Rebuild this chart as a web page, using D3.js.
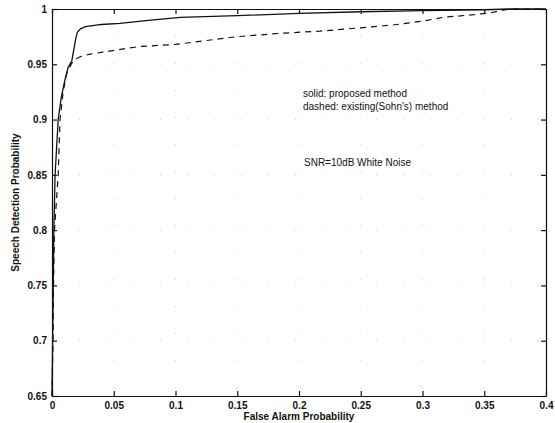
<!DOCTYPE html>
<meta charset="utf-8">
<style>
  body { margin: 0; background: #fff; }
  text { font-family: "Liberation Sans", Arial, sans-serif; fill: #111; }
</style>
<svg width="555" height="423"></svg>
<script src="https://d3js.org/d3.v7.min.js"></script>
<script>

var xTicks = [0, 0.05, 0.1, 0.15, 0.2, 0.25, 0.3, 0.35, 0.4];
var yTicks = [0.65, 0.7, 0.75, 0.8, 0.85, 0.9, 0.95, 1];

// solid: proposed method
var solidX = [0, 0.0005, 0.001, 0.0015, 0.0025, 0.005, 0.0075, 0.0105, 0.013, 0.016, 0.018, 0.019, 0.0205, 0.023, 0.027, 0.04, 0.055, 0.08, 0.104, 0.15, 0.2, 0.25, 0.3, 0.35, 0.37, 0.4];
var solidY = [0.65, 0.70, 0.75, 0.80, 0.85, 0.90, 0.92, 0.936, 0.947, 0.953, 0.965, 0.972, 0.979, 0.982, 0.984, 0.986, 0.987, 0.990, 0.9925, 0.994, 0.996, 0.9975, 0.9985, 0.9993, 1, 1];

// dashed: existing (Sohn's) method
var dashedX = [0, 0.0008, 0.0012, 0.002, 0.005, 0.0065, 0.009, 0.012, 0.016, 0.02, 0.023, 0.03, 0.041, 0.053, 0.07, 0.1, 0.15, 0.185, 0.217, 0.25, 0.276, 0.3, 0.317, 0.338, 0.355, 0.365, 0.372, 0.4];
var dashedY = [0.65, 0.70, 0.75, 0.80, 0.85, 0.90, 0.925, 0.942, 0.951, 0.955, 0.957, 0.959, 0.961, 0.963, 0.966, 0.968, 0.975, 0.978, 0.980, 0.983, 0.9855, 0.989, 0.9925, 0.9945, 0.9965, 0.999, 1, 1];

var notes = ["solid: proposed method", "dashed: existing(Sohn's) method"];
var snrNote = "SNR=10dB White Noise";

var svg = d3.select("svg");
var pLeft = 52, pRight = 546, pTop = 9, pBottom = 396;

var x = d3.scaleLinear().domain([0, 0.4]).range([pLeft, pRight]);
var y = d3.scaleLinear().domain([0.65, 1]).range([pBottom, pTop]);

// faint, sparse dotted grid (barely visible in the scan)
var grid = svg.append("g").attr("stroke", "#c8c8c8").attr("stroke-width", 0.8).attr("stroke-dasharray", "1,26");
grid.selectAll(".gx").data(xTicks.slice(1, -1)).enter().append("line")
    .attr("x1", x).attr("x2", x).attr("y1", pTop).attr("y2", pBottom);
grid.selectAll(".gy").data(yTicks.slice(1, -1)).enter().append("line")
    .attr("y1", y).attr("y2", y).attr("x1", pLeft).attr("x2", pRight);

function fmt(d) { return String(d); }

svg.append("g").attr("transform", "translate(0," + pBottom + ")")
    .call(d3.axisBottom(x).tickValues(xTicks).tickFormat(fmt).tickSizeInner(-5).tickSizeOuter(0).tickPadding(6));
svg.append("g").attr("transform", "translate(0," + pTop + ")")
    .call(d3.axisTop(x).tickValues(xTicks).tickFormat("").tickSizeInner(-5).tickSizeOuter(0));
svg.append("g").attr("transform", "translate(" + pLeft + ",0)")
    .call(d3.axisLeft(y).tickValues(yTicks).tickFormat(fmt).tickSizeInner(-5).tickSizeOuter(0).tickPadding(5));
svg.append("g").attr("transform", "translate(" + pRight + ",0)")
    .call(d3.axisRight(y).tickValues(yTicks).tickFormat("").tickSizeInner(-5).tickSizeOuter(0));

svg.selectAll(".domain, .tick line").attr("stroke", "#111").attr("stroke-width", 1.2);
svg.selectAll(".tick text").attr("font-size", 10).attr("font-weight", "bold")
    .style("font-family", "'Liberation Sans', Arial, sans-serif").attr("fill", "#111");

var line = d3.line().x(function(d) { return x(d[0]); }).y(function(d) { return y(d[1]); });

svg.append("path")
    .datum(d3.zip(dashedX, dashedY))
    .attr("fill", "none").attr("stroke", "#111").attr("stroke-width", 1.2)
    .attr("stroke-dasharray", "6,5")
    .attr("d", line);

svg.append("path")
    .datum(d3.zip(solidX, solidY))
    .attr("fill", "none").attr("stroke", "#111").attr("stroke-width", 1.3)
    .attr("d", line);

svg.append("text").attr("x", (pLeft + pRight) / 2).attr("y", 420)
    .attr("text-anchor", "middle").attr("font-size", 10).attr("font-weight", "bold")
    .text("False Alarm Probability");

svg.append("text").attr("transform", "translate(19," + (pTop + pBottom) / 2 + ") rotate(-90)")
    .attr("text-anchor", "middle").attr("font-size", 10).attr("font-weight", "bold")
    .text("Speech Detection Probability");

svg.selectAll(".note").data(notes).enter().append("text")
    .attr("x", 303).attr("y", function(d, i) { return 97 + i * 13; })
    .attr("font-size", 10)
    .text(function(d) { return d; });

svg.append("text").attr("x", 304).attr("y", 166).attr("font-size", 10).text(snrNote);

</script>
